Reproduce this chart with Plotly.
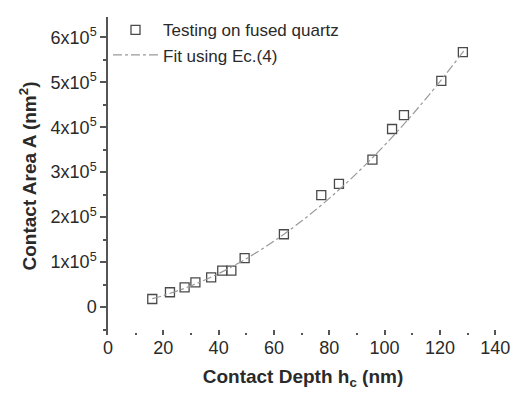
import plotly.graph_objects as go

# measured data (contact depth in nm, contact area in nm^2)
depth = [16.0, 22.4, 27.7, 31.6, 37.3, 41.3, 44.6, 49.4, 63.6, 77.1, 83.5, 95.6, 102.7, 107.0, 120.5, 128.3]
area = [18000, 33000, 44000, 55000, 66000, 81000, 81000, 109000, 162000, 249000, 274000, 328000, 396000, 427000, 503000, 567000]

# fit curve
fit_depth = [16, 20, 30, 40, 50, 60, 70, 80, 90, 100, 110, 120, 129]
fit_area = [18760, 25760, 47310, 74640, 107750, 146640, 191310, 241760, 297990, 360000, 427790, 501360, 572500]

x_tickvals = [0, 20, 40, 60, 80, 100, 120, 140]
x_ticktext = ["0", "20", "40", "60", "80", "100", "120", "140"]
y_tickvals = [0, 100000, 200000, 300000, 400000, 500000, 600000]
y_ticktext = ["0", "1x10<sup>5</sup>", "2x10<sup>5</sup>", "3x10<sup>5</sup>",
              "4x10<sup>5</sup>", "5x10<sup>5</sup>", "6x10<sup>5</sup>"]

ink = "#2a2a2a"
font_family = "Liberation Sans, Arial, sans-serif"

fig = go.Figure()
fig.add_trace(go.Scatter(
    x=depth, y=area, mode="markers", name="Testing on fused quartz",
    marker=dict(symbol="square-open", size=9, color="#4a4a4a", line=dict(width=1.3)),
))
fig.add_trace(go.Scatter(
    x=fit_depth, y=fit_area, mode="lines", name="Fit using Ec.(4)",
    line=dict(color="#999999", width=1.2, dash="dashdot", shape="spline"),
))

fig.update_layout(
    width=522, height=395,
    margin=dict(l=108, r=17, t=13, b=60),
    paper_bgcolor="white", plot_bgcolor="white",
    font=dict(family=font_family, color=ink, size=17),
    showlegend=True,
    legend=dict(x=0, y=1.015, xanchor="left", yanchor="top",
                bgcolor="rgba(0,0,0,0)", itemwidth=45,
                font=dict(size=17, color=ink), tracegroupgap=0),
    xaxis=dict(
        range=[0, 141], showgrid=False, zeroline=False, showline=False,
        tickmode="array", tickvals=x_tickvals, ticktext=x_ticktext,
        ticks="inside", ticklen=5, tickwidth=1.5, tickcolor="#555",
        tickfont=dict(size=18, color=ink),
        minor=dict(tickvals=[10, 30, 50, 70, 90, 110, 130], ticks="inside",
                   ticklen=2, tickwidth=1.5, tickcolor="#555"),
        title=dict(text="<b>Contact Depth h<sub>c</sub> (nm)</b>",
                   font=dict(size=19, color=ink), standoff=12),
    ),
    yaxis=dict(
        range=[-62000, 645000], showgrid=False, zeroline=False,
        showline=True, linecolor="#555", linewidth=1.5,
        tickmode="array", tickvals=y_tickvals, ticktext=y_ticktext,
        ticks="outside", ticklen=6, tickwidth=1.5, tickcolor="#555",
        tickfont=dict(size=18, color=ink),
        minor=dict(tickvals=[-50000, 50000, 150000, 250000, 350000, 450000, 550000, 650000],
                   ticks="outside", ticklen=3, tickwidth=1.5, tickcolor="#555"),
        title=dict(text="<b>Contact Area A (nm<sup>2</sup>)</b>",
                   font=dict(size=19, color=ink), standoff=9),
    ),
)

fig.write_html("out.html")
